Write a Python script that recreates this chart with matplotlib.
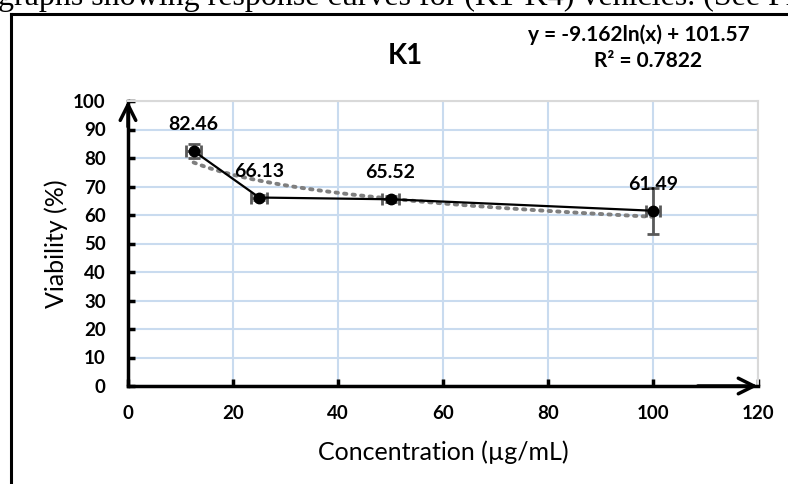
import matplotlib
matplotlib.use('Agg')
import matplotlib.pyplot as plt
from matplotlib.lines import Line2D
import numpy as np

# K1 viability data
conc = [12.5, 25, 50, 100]
viability = [82.46, 66.13, 65.52, 61.49]
y_err = [2.4, 1.0, 1.0, 8.0]
x_err = [1.4, 1.5, 1.6, 1.4]

# logarithmic trendline coefficients
fit_a, fit_b = -9.162, 101.57
r_squared = 0.7822

x_ticks = [0, 20, 40, 60, 80, 100, 120]
y_ticks = [0, 10, 20, 30, 40, 50, 60, 70, 80, 90, 100]

plt.rcParams['font.family'] = ['Lato', 'DejaVu Sans']

fig = plt.figure(figsize=(7.88, 4.84), dpi=100)
ax = fig.add_axes([128 / 788, 1 - 386 / 484, 630 / 788, 285 / 484])

ax.set_xlim(0, 120)
ax.set_ylim(0, 100)
ax.set_xticks(x_ticks)
ax.set_yticks(y_ticks)
ax.grid(True, color='#c9dbef', linewidth=1.5)
ax.set_axisbelow(True)

for side in ['top', 'right']:
    ax.spines[side].set_color('#d9d9d9')
    ax.spines[side].set_linewidth(1.5)
for side in ['left', 'bottom']:
    ax.spines[side].set_color('black')
    ax.spines[side].set_linewidth(2.5)

ax.tick_params(direction='in', length=5, width=2.5, color='black', labelsize=13.5)
ax.tick_params(axis='y', pad=16)
ax.tick_params(axis='x', pad=14)
for lab in ax.get_xticklabels() + ax.get_yticklabels():
    lab.set_fontweight('bold')

# arrow heads on the two axes
ax.annotate('', xy=(0, 1.01), xytext=(0, 0.9), xycoords='axes fraction',
            arrowprops=dict(arrowstyle='->', lw=2.5, color='black', mutation_scale=28))
ax.annotate('', xy=(1.004, 0), xytext=(0.9, 0), xycoords='axes fraction',
            arrowprops=dict(arrowstyle='->', lw=2.5, color='black', mutation_scale=28))

# trendline
xs = np.linspace(conc[0], conc[-1], 200)
ax.plot(xs, fit_a * np.log(xs) + fit_b, color='#7f7f7f', lw=2.8,
        linestyle=(0, (0.6, 1.6)), dash_capstyle='round', zorder=2)

ax.errorbar(conc, viability, yerr=y_err, xerr=x_err, fmt='none',
            ecolor='#595959', elinewidth=2, capsize=4.5, capthick=2, zorder=3)
ax.plot(conc, viability, color='black', lw=1.6, marker='o', markersize=7.5, zorder=4)

for x, y in zip(conc, viability):
    ax.annotate(f'{y:.2f}', (x, y), xytext=(0, 19), textcoords='offset points',
                ha='center', va='center', fontsize=14, fontweight='bold')

ax.set_xlabel('Concentration (µg/mL)', fontsize=18, labelpad=13)
ax.set_ylabel('Viability (%)', fontsize=18, labelpad=4)

fig.text(405 / 788, 1 - 56 / 484, 'K1', ha='center', va='center',
         fontsize=20, fontweight='bold')
fig.text(639 / 788, 1 - 35 / 484, f'y = {fit_a}ln(x) + {fit_b}', ha='center',
         va='center', fontsize=15, fontweight='bold')
fig.text(648 / 788, 1 - 61 / 484, f'R² = {r_squared}', ha='center',
         va='center', fontsize=15, fontweight='bold')

# chart frame and the caption line above it
fig.add_artist(Line2D([11 / 788, 11 / 788], [0, 1 - 14 / 484],
                      transform=fig.transFigure, color='black', lw=2.2))
fig.add_artist(Line2D([11 / 788, 1], [1 - 14 / 484, 1 - 14 / 484],
                      transform=fig.transFigure, color='black', lw=2.2))
fig.text(-2 / 788, 1 - 5 / 484, 'graphs showing response curves for (K1-K4) vehicles. (See Fi',
         family='Liberation Serif', fontsize=23, ha='left', va='baseline')

fig.savefig('out.png', dpi=100)
